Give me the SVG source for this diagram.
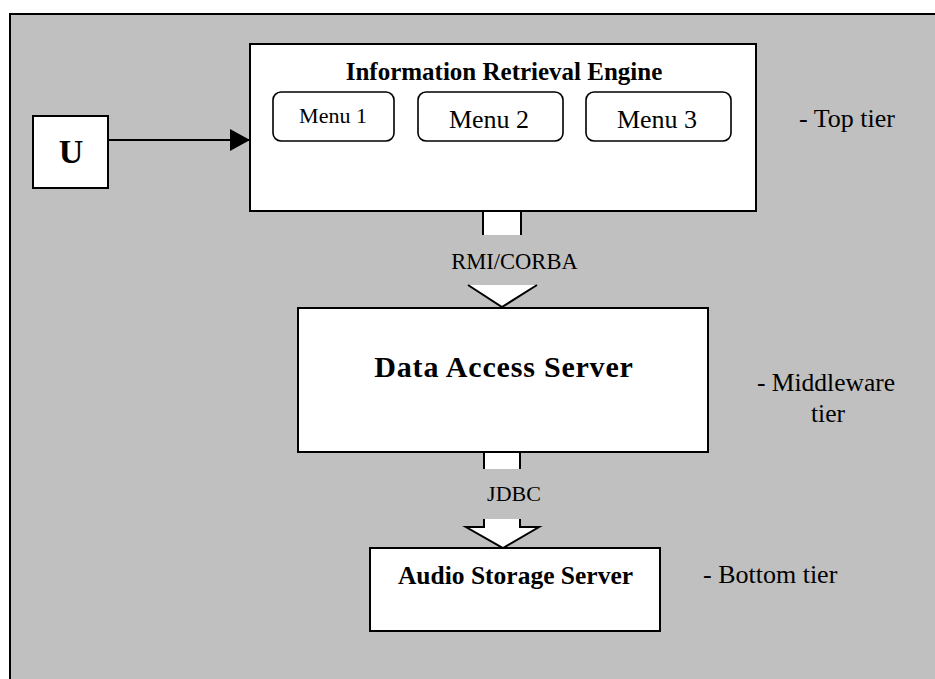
<svg xmlns="http://www.w3.org/2000/svg" width="935" height="679" viewBox="0 0 935 679">
  <style>
    .box { fill: #ffffff; stroke: #000000; stroke-width: 2; }
    .menu { fill: #ffffff; stroke: #000000; stroke-width: 1.6; }
    .edge { fill: none; stroke: #000000; stroke-width: 2; }
    .txt { font-family: "Liberation Serif", "Times New Roman", serif; fill: #000000; }
    .b { font-weight: bold; }
    .mid { text-anchor: middle; }
  </style>
  <defs>
    <marker id="arrowhead" markerUnits="userSpaceOnUse" markerWidth="20" markerHeight="22" refX="20" refY="11" orient="auto">
      <polygon points="0,0 20,11 0,22" fill="#000000"/>
    </marker>
  </defs>

  <!-- background panel -->
  <rect x="10" y="14" width="940" height="680" fill="#c0c0c0" stroke="#000000" stroke-width="2"/>

  <!-- connectors -->
  <g id="connectors">
    <line class="edge" x1="105" y1="140" x2="250" y2="140" marker-end="url(#arrowhead)"/>
    <!-- RMI/CORBA block arrow -->
    <g id="rmi-arrow">
      <rect x="483" y="211" width="38" height="24" fill="#ffffff"/>
      <line class="edge" x1="483" y1="211" x2="483" y2="235"/>
      <line class="edge" x1="521" y1="211" x2="521" y2="235"/>
      <polygon points="468,285 537,285 502,307" fill="#ffffff"/>
      <polyline class="edge" points="468,285 502,307 537,285"/>
      <text class="txt mid" x="514.5" y="269" font-size="22.5">RMI/CORBA</text>
    </g>
    <!-- JDBC block arrow -->
    <g id="jdbc-arrow">
      <rect x="484" y="452" width="36" height="17" fill="#ffffff"/>
      <line class="edge" x1="484" y1="452" x2="484" y2="469"/>
      <line class="edge" x1="520" y1="452" x2="520" y2="469"/>
      <polygon points="484,519 484,527 466,527 503,548 539,527 520,527 520,519" fill="#ffffff"/>
      <polyline class="edge" points="484,519 484,527 466,527 503,548 539,527 520,527 520,519"/>
      <text class="txt mid" x="514" y="501" font-size="22">JDBC</text>
    </g>
  </g>

  <!-- user -->
  <g id="user">
    <rect class="box" x="33" y="116" width="75" height="72"/>
    <text class="txt b mid" x="71" y="163" font-size="34">U</text>
  </g>

  <!-- top tier -->
  <g id="information-retrieval-engine">
    <rect class="box" x="250" y="44" width="506" height="167"/>
    <text class="txt b mid" x="504" y="80" font-size="25">Information Retrieval Engine</text>
  </g>
  <g id="menu-1">
    <rect class="menu" x="273" y="92" width="121" height="49" rx="8"/>
    <text class="txt mid" x="333" y="123" font-size="22">Menu 1</text>
  </g>
  <g id="menu-2">
    <rect class="menu" x="418" y="92" width="145" height="49" rx="8"/>
    <text class="txt mid" x="489" y="128" font-size="26">Menu 2</text>
  </g>
  <g id="menu-3">
    <rect class="menu" x="586" y="92" width="145" height="49" rx="8"/>
    <text class="txt mid" x="657" y="128" font-size="26">Menu 3</text>
  </g>

  <!-- middleware tier -->
  <g id="data-access-server">
    <rect class="box" x="298" y="308" width="410" height="144"/>
    <text class="txt b mid" x="504" y="377" font-size="30" letter-spacing="0.8">Data Access Server</text>
  </g>

  <!-- bottom tier -->
  <g id="audio-storage-server">
    <rect class="box" x="370" y="548" width="290" height="83"/>
    <text class="txt b mid" x="515.5" y="584" font-size="25.5">Audio Storage Server</text>
  </g>

  <!-- tier labels -->
  <g id="tier-labels">
    <text class="txt" x="799" y="127" font-size="26">- Top tier</text>
    <text class="txt mid" x="826" y="391" font-size="25.5">- Middleware</text>
    <text class="txt mid" x="828" y="422" font-size="25.5">tier</text>
    <text class="txt" x="703" y="583" font-size="26">- Bottom tier</text>
  </g>
</svg>
